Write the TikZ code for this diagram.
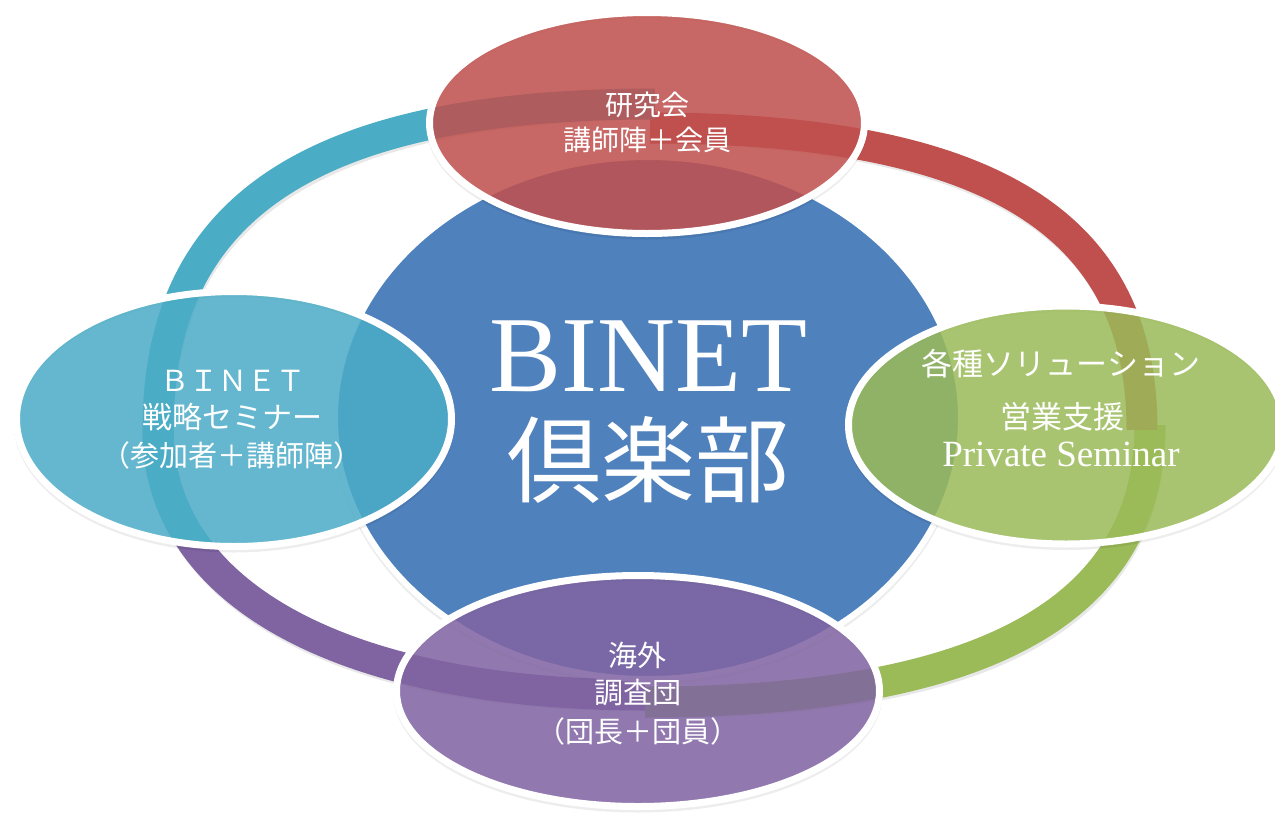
\documentclass[tikz,border=0pt]{standalone}
\usepackage{fontspec}
\setmainfont{Noto Sans CJK JP}
\newfontfamily\lserif{Liberation Serif}
\usetikzlibrary{shapes.geometric}
\definecolor{cblue}{HTML}{4F81BD}
\definecolor{cred}{HTML}{C0504D}
\definecolor{cteal}{HTML}{4BACC6}
\definecolor{cgreen}{HTML}{9BBB59}
\definecolor{cpurple}{HTML}{8064A2}
\begin{document}
\begin{tikzpicture}[x=1pt,y=-1pt,
  ringband/.style={line width=31pt, line cap=butt},
  ringshade/.style={line width=31pt, line cap=butt, draw=black, draw opacity=.09},
  sat/.style={ellipse, draw=white, line width=7pt, inner sep=0pt, fill opacity=.86},
  satshade/.style={ellipse, draw=black, draw opacity=.07, line width=6pt, inner sep=0pt},
  lbl/.style={text=white, inner sep=0pt},
]
\fill[white] (0,0) rectangle (1275,812);
\useasboundingbox (0,0) rectangle (1275,812);

% ring end points
\coordinate (tT) at (655,104);
\coordinate (tL) at (158,430);
\coordinate (rT) at (650,128);
\coordinate (rR) at (1142,430);
\coordinate (gR) at (1150,425);
\coordinate (gB) at (645,702);
\coordinate (pB) at (645,695);
\coordinate (pL) at (158,430);

% ring shadows
\begin{scope}[shift={(2,4)}]
  \draw[ringshade] (pB) .. controls (343,695) and (158,594) .. (pL);
  \draw[ringshade] (gR) .. controls (1150,611) and (983,702) .. (gB);
  \draw[ringshade] (rT) .. controls (1020,128) and (1142,243) .. (rR);
  \draw[ringshade] (tT) .. controls (300,104) and (158,215) .. (tL);
\end{scope}

% ring arcs
\draw[ringband, draw=cpurple] (pB) .. controls (343,695) and (158,594) .. (pL);
\draw[ringband, draw=cgreen] (gR) .. controls (1150,611) and (983,702) .. (gB);
\draw[ringband, draw=cred] (rT) .. controls (1020,128) and (1142,243) .. (rR);
\draw[ringband, draw=cteal] (tT) .. controls (300,104) and (158,215) .. (tL);
\begin{scope}
  \clip (100,425) rectangle (300,542);
  \draw[ringband, draw=cteal] (pB) .. controls (343,695) and (158,594) .. (pL);
\end{scope}

% central ellipse
\node[satshade, minimum width=626pt, minimum height=522pt] (clubshade) at (648,421) {};
\node[ellipse, draw=white, line width=6pt, fill=cblue, inner sep=0pt,
      minimum width=626pt, minimum height=522pt] (club) at (648,418) {};

% satellite shadows
\node[satshade, minimum width=435pt, minimum height=221pt] (topS) at (647,126) {};
\node[satshade, minimum width=435pt, minimum height=255pt] (leftS) at (234,422) {};
\node[satshade, minimum width=435pt, minimum height=238pt] (rightS) at (1066,428) {};
\node[satshade, minimum width=483pt, minimum height=231pt] (botS) at (638,694) {};

% satellites
\node[sat, fill=cred, minimum width=435pt, minimum height=221pt] (top) at (647,123) {};
\node[sat, fill=cteal, minimum width=435pt, minimum height=255pt] (left) at (234,419) {};
\node[sat, fill=cgreen, minimum width=435pt, minimum height=238pt] (right) at (1066,425) {};
\node[sat, fill=cpurple, minimum width=483pt, minimum height=231pt] (bot) at (638,691) {};

% central text
\node[lbl, font=\lserif\fontsize{108}{108}\selectfont] (binet) at (648,356) {BINET};
\node[lbl, font=\fontsize{94}{94}\selectfont] (kurabu) at (648,460) {倶楽部};

% top text
\node[lbl, font=\fontsize{28}{28}\selectfont] (top1) at (647,105) {研究会};
\node[lbl, font=\fontsize{28}{28}\selectfont] (top2) at (647,140) {講師陣＋会員};

% left text
\node[lbl, font=\fontsize{29}{29}\selectfont] (left1) at (233,381) {ＢＩＮＥＴ};
\node[lbl, font=\fontsize{30}{30}\selectfont] (left2) at (232,417) {戦略セミナー};
\node[lbl, font=\fontsize{29}{29}\selectfont] (left3) at (232,455) {（参加者＋講師陣）};

% right text
\node[lbl, font=\fontsize{31}{31}\selectfont] (right1) at (1061,364) {各種ソリューション};
\node[lbl, font=\fontsize{31}{31}\selectfont] (right2) at (1062,417) {営業支援};
\node[lbl, font=\lserif\fontsize{37}{37}\selectfont] (right3) at (1061,454) {Private Seminar};

% bottom text
\node[lbl, font=\fontsize{29}{29}\selectfont] (bot1) at (637,655) {海外};
\node[lbl, font=\fontsize{29}{29}\selectfont] (bot2) at (638,693) {調査団};
\node[lbl, font=\fontsize{29}{29}\selectfont] (bot3) at (638,731) {（団長＋団員）};
\end{tikzpicture}
\end{document}
